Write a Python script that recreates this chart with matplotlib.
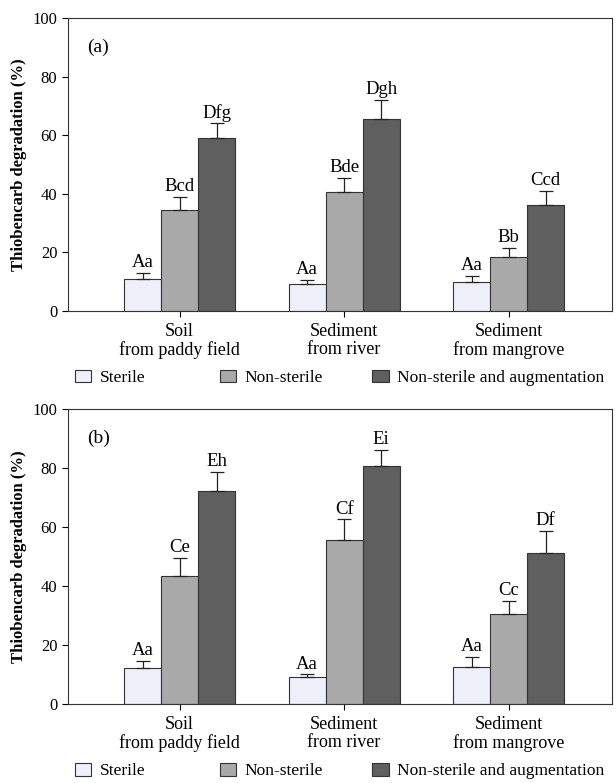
import matplotlib.pyplot as plt
import numpy as np

plt.rcParams['font.family'] = ['Liberation Serif', 'DejaVu Serif']

sites = ['Soil\nfrom paddy field', 'Sediment\nfrom river', 'Sediment\nfrom mangrove']
treatments = ['Sterile', 'Non-sterile', 'Non-sterile and augmentation']
colors = ['#EFEFFA', '#A9A9A9', '#5F5F5F']

# panel (a)
a_means = [[11, 9, 10], [34.5, 40.5, 18.5], [59, 65.5, 36]]
a_errs = [[2, 1.5, 2], [4.5, 5, 3], [5, 6.5, 5]]
a_letters = [['Aa', 'Aa', 'Aa'], ['Bcd', 'Bde', 'Bb'], ['Dfg', 'Dgh', 'Ccd']]

# panel (b)
b_means = [[12, 9, 12.5], [43.5, 55.5, 30.5], [72, 80.5, 51]]
b_errs = [[2.5, 1, 3.5], [6, 7, 4.5], [6.5, 5.5, 7.5]]
b_letters = [['Aa', 'Aa', 'Aa'], ['Ce', 'Cf', 'Cc'], ['Eh', 'Ei', 'Df']]

fig = plt.figure(figsize=(6.16, 7.83), dpi=100)
ax_a = fig.add_axes([0.110, 0.603, 0.884, 0.374])
ax_b = fig.add_axes([0.110, 0.101, 0.884, 0.377])

x = np.arange(len(sites))
w = 0.225
leg_x = [0.013, 0.279, 0.559]  # where each legend entry starts

for ax, means, errs, letters, tag, leg_y in [(ax_a, a_means, a_errs, a_letters, '(a)', -0.229),
                                             (ax_b, b_means, b_errs, b_letters, '(b)', -0.228)]:
    bars = []
    for i in range(3):
        pos = x + (i - 1) * w
        b = ax.bar(pos, means[i], w, color=colors[i], edgecolor='#333333', linewidth=0.8,
                   label=treatments[i], zorder=2)
        bars.append(b)
        ax.errorbar(pos, means[i], yerr=[np.zeros(3), errs[i]], fmt='none',
                    ecolor='#222222', elinewidth=0.9, capsize=5, capthick=0.9, zorder=3)
        for p, m, e, t in zip(pos, means[i], errs[i], letters[i]):
            ax.text(p, m + e + 0.6, t, ha='center', va='bottom', fontsize=13.5)
    ax.set_xlim(-0.68, 2.63)
    ax.set_ylim(0, 100)
    ax.set_yticks([0, 20, 40, 60, 80, 100])
    ax.set_xticks(x)
    ax.set_xticklabels(sites, fontsize=13, linespacing=1.05)
    ax.tick_params(axis='y', labelsize=12, direction='out', length=4)
    ax.tick_params(axis='x', direction='out', length=4, pad=5)
    ax.set_ylabel('Thiobencarb degradation (%)', fontsize=12, fontweight='bold')
    ax.text(0.035, 0.885, tag, transform=ax.transAxes, fontsize=14)
    for s in ax.spines.values():
        s.set_color('#333333')
    # one legend per entry so the uneven spacing of the original can be kept
    for i in range(3):
        lg = ax.legend([bars[i]], [treatments[i]], loc='center left',
                       bbox_to_anchor=(leg_x[i], leg_y), frameon=False, fontsize=12.5,
                       handlelength=0.95, handleheight=0.75, handletextpad=0.5,
                       borderaxespad=0, borderpad=0)
        if i < 2:
            ax.add_artist(lg)

fig.savefig('out.png', dpi=100)
